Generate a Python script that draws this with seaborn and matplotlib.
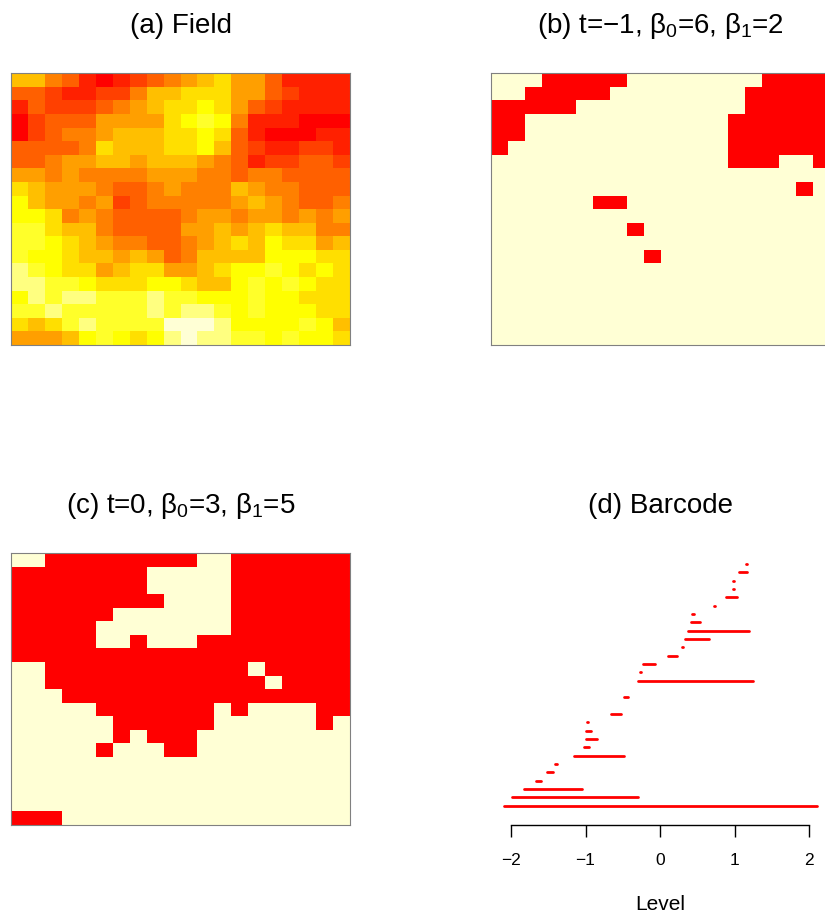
import numpy as np
import matplotlib
matplotlib.use("Agg")
import matplotlib.pyplot as plt
from matplotlib.colors import ListedColormap
import seaborn as sns

# R heat.colors(12)
heat12 = ["#FF0000", "#FF2000", "#FF4000", "#FF6000", "#FF8000", "#FF9F00",
          "#FFBF00", "#FFDF00", "#FFFF00", "#FFFF2A", "#FFFF80", "#FFFFD5"]

# colour level (0..11) of each cell of the field, top row first
field = [
    [6, 6, 4, 3, 1, 0, 1, 2, 3, 4, 5, 6, 7, 5, 5, 3, 1, 1, 1, 1],
    [3, 3, 2, 1, 1, 2, 2, 4, 6, 6, 7, 7, 7, 5, 5, 3, 2, 1, 1, 1],
    [1, 3, 2, 2, 2, 3, 4, 5, 6, 7, 7, 8, 7, 5, 3, 2, 1, 1, 1, 1],
    [0, 2, 3, 3, 3, 5, 5, 5, 5, 7, 8, 9, 8, 4, 1, 1, 1, 0, 0, 0],
    [0, 2, 3, 4, 4, 5, 6, 6, 6, 7, 7, 8, 7, 3, 1, 0, 0, 0, 1, 1],
    [3, 3, 3, 3, 4, 7, 6, 6, 6, 7, 7, 8, 6, 3, 2, 1, 1, 2, 2, 1],
    [3, 3, 4, 5, 5, 6, 6, 5, 6, 6, 6, 5, 4, 3, 1, 2, 2, 3, 3, 2],
    [5, 5, 4, 5, 4, 4, 4, 4, 5, 5, 5, 4, 4, 3, 4, 4, 3, 3, 3, 3],
    [7, 6, 5, 5, 5, 4, 3, 3, 4, 5, 4, 4, 4, 6, 5, 4, 4, 3, 3, 3],
    [8, 6, 5, 5, 4, 5, 2, 3, 4, 4, 4, 4, 4, 5, 6, 5, 4, 3, 3, 4],
    [8, 8, 7, 4, 5, 4, 3, 3, 3, 3, 4, 5, 5, 4, 5, 5, 4, 5, 4, 5],
    [9, 9, 7, 6, 6, 4, 3, 3, 3, 3, 5, 5, 6, 5, 6, 7, 6, 6, 4, 4],
    [9, 9, 8, 7, 6, 5, 4, 4, 3, 3, 4, 5, 6, 7, 6, 8, 7, 7, 5, 6],
    [9, 8, 8, 7, 6, 6, 5, 6, 5, 3, 4, 6, 6, 6, 6, 8, 8, 8, 7, 7],
    [10, 9, 8, 7, 7, 5, 6, 7, 7, 5, 5, 6, 7, 8, 8, 9, 8, 7, 8, 7],
    [10, 10, 9, 9, 8, 7, 7, 7, 8, 8, 7, 6, 6, 8, 9, 8, 9, 8, 7, 7],
    [8, 10, 9, 10, 10, 9, 9, 9, 10, 9, 9, 8, 8, 8, 9, 8, 8, 7, 7, 7],
    [9, 9, 10, 9, 9, 9, 9, 9, 10, 9, 10, 10, 9, 8, 9, 8, 8, 8, 7, 7],
    [7, 6, 7, 9, 10, 9, 9, 9, 9, 11, 11, 11, 10, 8, 8, 8, 8, 9, 8, 6],
    [5, 5, 5, 6, 8, 9, 8, 7, 8, 10, 11, 10, 10, 9, 9, 8, 9, 8, 8, 7],
]

# excursion sets, 1 = below threshold (red)
mask_b = [
    "00011111000000001111",
    "00111110000000011111",
    "11111000000000011111",
    "11000000000000111111",
    "11000000000000111111",
    "10000000000000111111",
    "00000000000000111001",
    "00000000000000000000",
    "00000000000000000010",
    "00000011000000000000",
    "00000000000000000000",
    "00000000100000000000",
    "00000000000000000000",
    "00000000010000000000",
    "00000000000000000000",
    "00000000000000000000",
    "00000000000000000000",
    "00000000000000000000",
    "00000000000000000000",
    "00000000000000000000",
]
mask_c = [
    "00111111111001111111",
    "11111111000001111111",
    "11111111000001111111",
    "11111111100001111111",
    "11111100000001111111",
    "11111000000001111111",
    "11111001000111111111",
    "11111111111111111111",
    "00111111111111011111",
    "00111111111111101111",
    "00011111111111111111",
    "00000111111101000011",
    "00000011111100000010",
    "00000010111000000000",
    "00000100011000000000",
    "00000000000000000000",
    "00000000000000000000",
    "00000000000000000000",
    "00000000000000000000",
    "11100000000000000000",
]

# barcode: birth / death level of each bar, bottom bar first
births = [-2.09, -1.99, -1.82, -1.67, -1.52, -1.41, -1.16, -1.02, -0.99, -0.99,
          -0.98, -0.66, -0.53, -0.48, -0.49, -0.29, -0.27, -0.23, 0.10, 0.29,
          0.34, 0.37, 0.41, 0.43, 0.72, 0.88, 0.98, 0.97, 1.06, 1.15]
deaths = [2.10, -0.30, -1.05, -1.60, -1.43, -1.38, -0.49, -0.95, -0.85, -0.93,
          -0.96, -0.52, -0.52, -0.43, -0.48, 1.24, -0.25, -0.07, 0.23, 0.31,
          0.65, 1.19, 0.53, 0.45, 0.73, 1.03, 0.99, 0.99, 1.16, 1.16]

sns.set_theme(style="white")
plt.rcParams["font.family"] = ["Liberation Sans", "DejaVu Sans"]
plt.rcParams["mathtext.fontset"] = "custom"
plt.rcParams["mathtext.rm"] = "Liberation Sans"
plt.rcParams["mathtext.it"] = "Liberation Sans"
plt.rcParams["mathtext.bf"] = "Liberation Sans:bold"

W, H = 825, 917
fig = plt.figure(figsize=(W / 100, H / 100), dpi=100)


def box(x0, y0, x1, y1):
    return [x0 / W, 1 - y1 / H, (x1 - x0) / W, (y1 - y0) / H]


ax_a = fig.add_axes(box(11, 73.3, 350, 345))
ax_b = fig.add_axes(box(491, 73.3, 830, 345))
ax_c = fig.add_axes(box(11, 553.3, 350, 825))
ax_d = fig.add_axes(box(490, 553.3, 831, 825))

sns.heatmap(np.array(field), ax=ax_a, cmap=ListedColormap(heat12),
            vmin=-0.5, vmax=11.5, cbar=False, xticklabels=False, yticklabels=False)
for ax, mask in ((ax_b, mask_b), (ax_c, mask_c)):
    m = np.array([[int(ch) for ch in row] for row in mask])
    sns.heatmap(m, ax=ax, cmap=ListedColormap([heat12[-1], heat12[0]]),
                vmin=0, vmax=1, cbar=False, xticklabels=False, yticklabels=False)
for ax in (ax_a, ax_b, ax_c):
    for s in ax.spines.values():
        s.set_visible(True)
        s.set_color("#808080")
        s.set_linewidth(0.8)

# barcode
bars = np.arange(1, len(births) + 1)
ax_d.hlines(bars, births, deaths, colors="#FF0000", linewidth=2.0, capstyle="round")
ax_d.set_xlim(-2.28, 2.29)
ax_d.set_ylim(-1.3, 31.3)
for side in ("left", "top", "right"):
    ax_d.spines[side].set_visible(False)
ax_d.spines["bottom"].set_bounds(-2, 2)
ax_d.spines["bottom"].set_color("black")
ax_d.spines["bottom"].set_linewidth(1.0)
ax_d.set_xticks([-2, -1, 0, 1, 2])
ax_d.set_yticks([])
ax_d.tick_params(axis="x", bottom=True, direction="out", length=8.5, width=1.0,
                 pad=12, labelsize=12.5, colors="black")
ax_d.set_xlabel("Level", fontsize=15, labelpad=19, color="black")

tkw = dict(ha="center", va="center", fontsize=20, color="black")
fig.text(180.5 / W, 1 - 26 / H, "(a) Field", **tkw)
fig.text(660 / W, 1 - 26 / H, r"(b) t=−1, $\beta_0$=6, $\beta_1$=2", **tkw)
fig.text(180.5 / W, 1 - 506 / H, r"(c) t=0, $\beta_0$=3, $\beta_1$=5", **tkw)
fig.text(660 / W, 1 - 506 / H, "(d) Barcode", **tkw)

fig.savefig("out.png", dpi=100)
